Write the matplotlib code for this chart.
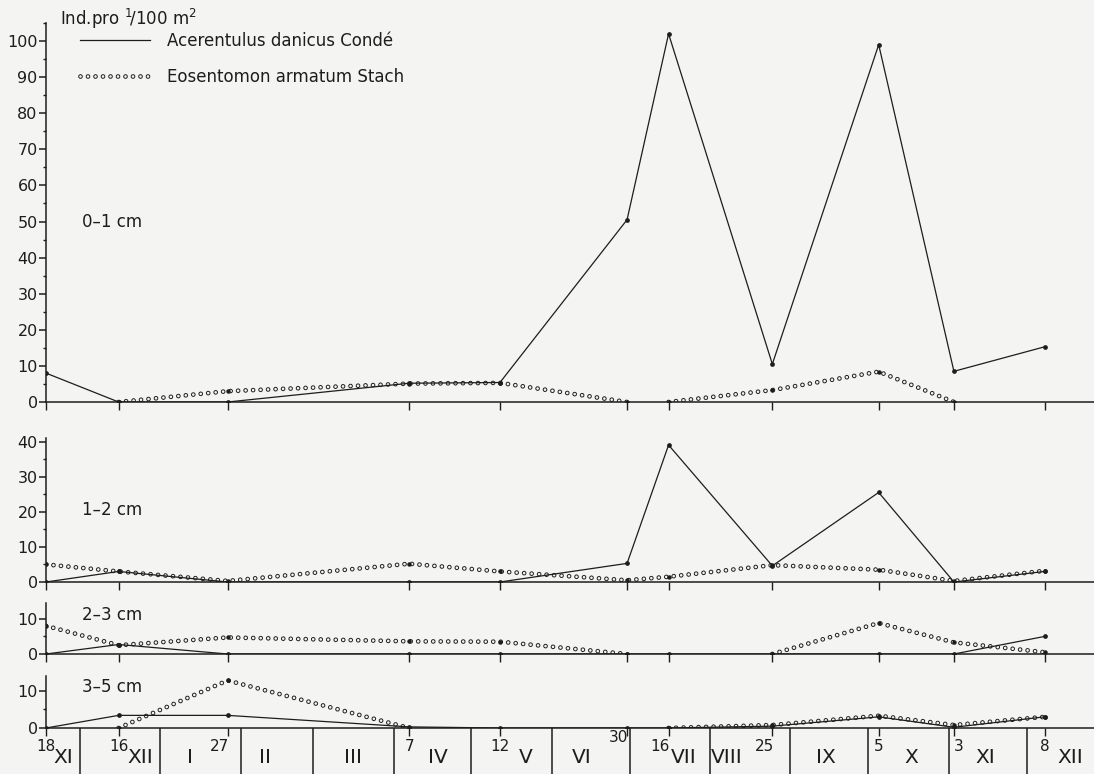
import numpy as np
import matplotlib.pyplot as plt
from matplotlib.lines import Line2D
from matplotlib.ticker import MultipleLocator

plt.rcParams['font.family'] = 'DejaVu Sans'
plt.rcParams['mathtext.fontset'] = 'dejavusans'
plt.rcParams['lines.scale_dashes'] = False

# sampling dates, counted in days from 18 XI
sample_day = [0, 28, 70, 140, 175, 224, 240, 280, 321, 350, 385]
date_labels = ['18', '16', '27', '7', '12', '30', '16', '25', '5', '3', '8']
months = ['XI', 'XII', 'I', 'II', 'III', 'IV', 'V', 'VI', 'VII', 'VIII', 'IX', 'X', 'XI', 'XII']
month_len = [30, 31, 31, 28, 31, 30, 31, 30, 31, 31, 30, 31, 30, 31]

# Ind. pro 1/100 m2, per soil layer
acer_0_1 = [8, 0, 0, 5.2, 5.4, 50.5, 102, 10.5, 99, 8.5, 15.3]
eos_0_1 = [0, 0, 3.0, 5.1, 5.3, 0, 0, 3.3, 8.4, 0, 0]
acer_1_2 = [0, 3.0, 0, 0, 0, 5.3, 39, 4.6, 25.5, 0, 3.0]
eos_1_2 = [5, 3.0, 0.3, 5.2, 3.0, 0.5, 1.5, 4.8, 3.5, 0.3, 3.2]
acer_2_3 = [0, 2.7, 0, 0, 0, 0, 0, 0, 0, 0, 5.0]
eos_2_3 = [8, 2.5, 4.7, 3.6, 3.5, 0, 0, 0, 8.8, 3.3, 0.5]
acer_3_5 = [0, 3.4, 3.4, 0.3, 0, 0, 0, 0.5, 3.0, 0.2, 3.0]
eos_3_5 = [0, 0, 12.8, 0, 0, 0, 0, 0.8, 3.3, 0.8, 3.0]

layers = ['0–1 cm', '1–2 cm', '2–3 cm', '3–5 cm']

INK = '#1d1d1d'
PAPER = '#f4f4f2'
W, H = 1094.0, 774.0
x0 = 46 / W
xmax = 404

fig = plt.figure(figsize=(10.94, 7.74), dpi=100, facecolor=PAPER)


def add_panel(top_px, zero_px):
    ax = fig.add_axes([x0, (H - zero_px) / H, 1 - x0, (zero_px - top_px) / H])
    ax.patch.set_visible(False)
    for s in ['top', 'right']:
        ax.spines[s].set_visible(False)
    for s in ['left', 'bottom']:
        ax.spines[s].set_color(INK)
        ax.spines[s].set_linewidth(1.1)
    ax.set_xlim(0, xmax)
    ax.set_xticks(sample_day)
    ax.set_xticklabels([])
    ax.tick_params(axis='x', length=6, width=1, color=INK)
    ax.tick_params(axis='y', length=5, width=1.1, pad=1, labelsize=11.5,
                   color=INK, labelcolor=INK)
    ax.yaxis.set_minor_locator(MultipleLocator(5))
    ax.tick_params(axis='y', which='minor', length=2.5, width=1, color=INK)
    return ax


def circle_line(ax, x, y):
    # open circles: a fat dotted line with a thinner paper-coloured one on top
    x = np.asarray(x, float)
    y = np.asarray(y, float)
    keep = [not (y[i] == 0 and y[i + 1] == 0) for i in range(len(y) - 1)]
    runs, cur = [], []
    for i, k in enumerate(keep):
        if k:
            if not cur:
                cur = [i]
            cur.append(i + 1)
        elif cur:
            runs.append(cur)
            cur = []
    if cur:
        runs.append(cur)
    dots = (0, (0.001, 5.4))
    for r in runs:
        ax.plot(x[r], y[r], color=INK, lw=3.4, ls=dots, dash_capstyle='round', zorder=2)
        ax.plot(x[r], y[r], color=PAPER, lw=2.0, ls=dots, dash_capstyle='round', zorder=2.1)
        ax.plot(x[r], y[r], 'o', ms=2.2, color=INK, ls='none', zorder=2.2)


panels = [
    (acer_0_1, eos_0_1, 23, 402, 105, 10, 50),
    (acer_1_2, eos_1_2, 438, 582, 41, 10, 20.5),
    (acer_2_3, eos_2_3, 603, 654, 14.5, 10, 11),
    (acer_3_5, eos_3_5, 676, 728, 14, 10, 11),
]

for (acer, eos, top, zero, ytop, step, lab_y), name in zip(panels, layers):
    ax = add_panel(top, zero)
    ax.set_ylim(0, ytop)
    ax.set_yticks(np.arange(0, ytop, step))
    circle_line(ax, sample_day, eos)
    ax.plot(sample_day, acer, color=INK, lw=0.9, marker='o', ms=2.4, zorder=3)
    ax.text(14, lab_y, name, fontsize=12, color=INK, va='center', ha='left')

# month strip under the last panel
band = fig.add_axes([x0, 0, 1 - x0, 46 / H])
band.set_xlim(0, xmax)
band.set_ylim(0, 1)
band.axis('off')
starts = -17 + np.cumsum(month_len)
band.vlines(starts[starts < xmax], 0, 1, color=INK, lw=1.1)
edges = np.concatenate([[0], starts])
roman_shift = [0, 8, -4, -4.5, 0, 2, 5.5, -3.5, 5.5, -9, -1.5, 1, -1, 4]
for i, m in enumerate(months):
    lo, hi = max(edges[i], 0), min(edges[i + 1], xmax)
    band.text((lo + hi) / 2 + roman_shift[i], 0.36, m, fontsize=14.5, color=INK,
              ha='center', va='center')
date_ha = ['center', 'center', 'right', 'center', 'center', 'right', 'right',
           'right', 'center', 'left', 'center']
for d, lab, ha in zip(sample_day, date_labels, date_ha):
    y = 0.8 if lab == '30' else 0.6
    band.text(d + (0.6 if ha == 'right' else 0), y, lab, fontsize=11, color=INK,
              ha=ha, va='center')

# header and key
fig.text(60 / W, 1 - 25 / H, r'Ind.pro $^{1}\!/100$ m$^{2}$', fontsize=12,
         color=INK, va='baseline')
h_acer = Line2D([], [], color=INK, lw=0.9)
h_eos = (Line2D([], [], color=INK, lw=3.4, ls=(0, (0.001, 5.4)), dash_capstyle='round'),
         Line2D([], [], color=PAPER, lw=2.0, ls=(0, (0.001, 5.4)), dash_capstyle='round'))
fig.legend([h_acer, h_eos], ['Acerentulus danicus Condé', 'Eosentomon armatum Stach'],
           loc='upper left', bbox_to_anchor=(80 / W, 1 - 32 / H), frameon=False,
           fontsize=12, handlelength=4.2, handletextpad=1.0, labelspacing=1.05,
           borderpad=0, borderaxespad=0, labelcolor=INK)

fig.savefig('out.png', dpi=100, facecolor=PAPER)
